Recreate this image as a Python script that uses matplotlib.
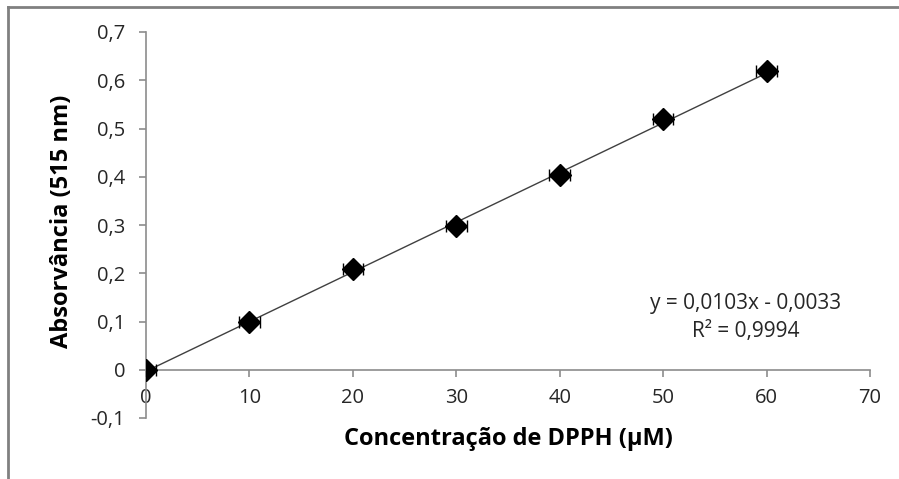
import matplotlib
matplotlib.use("Agg")
import matplotlib.pyplot as plt
from matplotlib.lines import Line2D
from matplotlib.transforms import IdentityTransform
import numpy as np

conc = [0, 10, 20, 30, 40, 50, 60]
absorb = [0.000, 0.100, 0.208, 0.298, 0.403, 0.519, 0.619]
x_err = [1, 1, 1, 1, 1, 1, 1]
slope = 0.0103
intercept = -0.0033
eq_text = "y = 0,0103x - 0,0033"
r2_text = "R² = 0,9994"
xticks = [0, 10, 20, 30, 40, 50, 60, 70]
yticks = [-0.1, 0, 0.1, 0.2, 0.3, 0.4, 0.5, 0.6, 0.7]
ytick_labels = ["-0,1", "0", "0,1", "0,2", "0,3", "0,4", "0,5", "0,6", "0,7"]

plt.rcParams['font.family'] = ['Open Sans', 'DejaVu Sans']

W, H = 899, 479
fig = plt.figure(figsize=(W / 100, H / 100), dpi=100)
ax = fig.add_axes([146 / W, 1 - 418 / H, (870 - 146) / W, (418 - 32) / H])

# trendline
xt = np.array([conc[0], conc[-1]])
ax.plot(xt, slope * xt + intercept, color='#404040', lw=1.0, zorder=2)

ax.errorbar(conc, absorb, xerr=x_err, fmt='D', color='black', ms=11,
            ecolor='black', elinewidth=1, capsize=4, capthick=1, zorder=3)

ax.set_xlim(0, 70)
ax.set_ylim(-0.1, 0.7)
ax.set_xticks(xticks)
ax.set_xticklabels([str(v) for v in xticks])
ax.set_yticks(yticks)
ax.set_yticklabels(ytick_labels)

for s in ['top', 'right']:
    ax.spines[s].set_visible(False)
ax.spines['bottom'].set_position(('data', 0))
for s in ['bottom', 'left']:
    ax.spines[s].set_color('#8c8c8c')
    ax.spines[s].set_linewidth(1.2)
ax.tick_params(axis='both', colors='#8c8c8c', length=5, width=1.2,
               labelcolor='#262626', labelsize=14.5)
ax.tick_params(axis='x', direction='out', pad=8)
ax.tick_params(axis='y', direction='out', pad=10)

ax.text(746, H - 303, eq_text, fontsize=15, color='#262626',
        ha='center', va='center', transform=IdentityTransform())
ax.text(746, H - 331, r2_text, fontsize=15, color='#262626',
        ha='center', va='center', transform=IdentityTransform())

fig.text(62 / W, 1 - 221 / H, "Absorvância (515 nm)", rotation=90, fontsize=17,
         fontweight='bold', ha='center', va='center', color='#000000')
fig.text(508 / W, 1 - 439 / H, "Concentração de DPPH (µM)", fontsize=17,
         fontweight='bold', ha='center', va='center', color='#000000')

# outer border (top and left visible)
fig.add_artist(Line2D([8 / W, 1], [1 - 7 / H, 1 - 7 / H], transform=fig.transFigure,
                      color='#808080', lw=2))
fig.add_artist(Line2D([8 / W, 8 / W], [0, 1 - 7 / H], transform=fig.transFigure,
                      color='#808080', lw=2))

fig.savefig("out.png", dpi=100)
